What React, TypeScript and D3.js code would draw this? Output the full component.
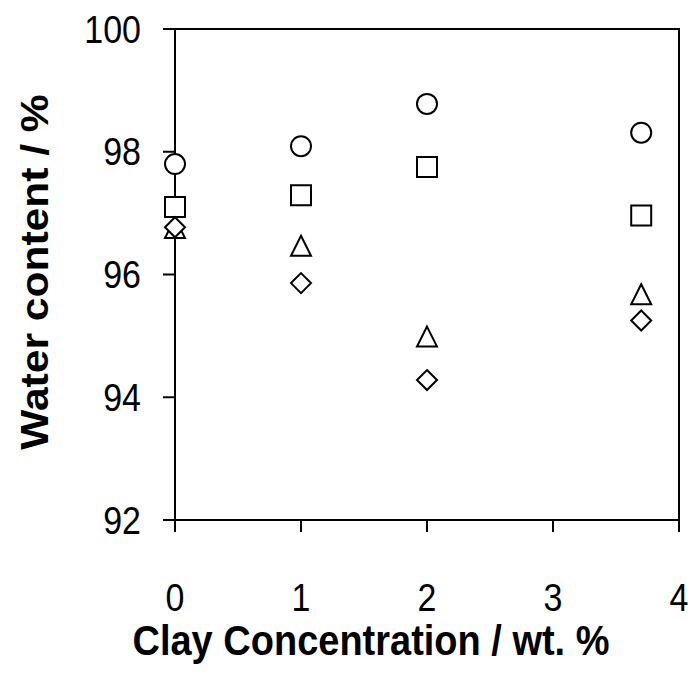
import React from "react";
import * as d3 from "d3";

const clayConc = [0, 1, 2, 3.7];
const seriesCircle = [97.8, 98.09, 98.78, 98.31];
const seriesSquare = [97.1, 97.29, 97.75, 96.96];
const seriesTriangle = [96.75, 96.46, 94.98, 95.67];
const seriesDiamond = [96.77, 95.86, 94.28, 95.25];
const xTicks = [0, 1, 2, 3, 4];
const yTicks = [92, 94, 96, 98, 100];
const xTitle = "Clay Concentration / wt. %";
const yTitle = "Water content / %";

const W = 691, H = 691;
const left = 175, right = 679, top = 29, bottom = 520;
const SY = 1.12;

export default function App() {
  const x = d3.scaleLinear().domain([0, 4]).range([left, right]);
  const y = d3.scaleLinear().domain([92, 100]).range([bottom, top]);
  const sz = 20;
  const sym = (type: d3.SymbolType, area: number) => d3.symbol().type(type).size(area)() as string;
  const circlePath = sym(d3.symbolCircle, Math.PI * (sz / 2) ** 2);
  const squarePath = sym(d3.symbolSquare, sz * sz);
  const diamondPath = `M0,${-sz / 2}L${sz / 2},0L0,${sz / 2}L${-sz / 2},0Z`;
  const triPath = `M0,${-sz / 2 - 0.5}L${sz / 2},${sz / 2 - 0.5}L${-sz / 2},${sz / 2 - 0.5}Z`;
  const series = [
    { vals: seriesCircle, path: circlePath },
    { vals: seriesSquare, path: squarePath },
    { vals: seriesTriangle, path: triPath },
    { vals: seriesDiamond, path: diamondPath },
  ];
  const font = "'Liberation Sans', Arial, sans-serif";
  return (
    <svg width={W} height={H} style={{ position: "absolute", left: 0, top: 0, background: "#fff" }}>
      <rect x={0} y={0} width={W} height={H} fill="#fff" />
      <g stroke="#000" strokeWidth={2} fill="none">
        <rect x={left} y={top} width={right - left} height={bottom - top} />
        {yTicks.map((t) => (
          <line key={"yt" + t} x1={left - 12} x2={left} y1={y(t)} y2={y(t)} />
        ))}
        {xTicks.map((t) => (
          <line key={"xt" + t} x1={x(t)} x2={x(t)} y1={bottom} y2={bottom + 12} />
        ))}
      </g>
      <g fontFamily={font} fontSize={34} fill="#000">
        {yTicks.map((t) => (
          <text
            key={"yl" + t}
            transform={`translate(141,${y(t) + 0.358 * 34 * SY}) scale(1,${SY})`}
            textAnchor="end"
          >
            {t}
          </text>
        ))}
        {xTicks.map((t) => (
          <text key={"xl" + t} transform={`translate(${x(t)},611) scale(1,${SY})`} textAnchor="middle">
            {t}
          </text>
        ))}
      </g>
      <text
        transform={`translate(371,655) scale(1,${SY})`}
        textAnchor="middle"
        fontFamily={font}
        fontWeight="bold"
        fontSize={38}
      >
        {xTitle}
      </text>
      <text
        transform={`translate(48,272) scale(1,${SY}) rotate(-90)`}
        textAnchor="middle"
        fontFamily={font}
        fontWeight="bold"
        fontSize={38}
      >
        {yTitle}
      </text>
      {series.map((s, i) => (
        <g key={i}>
          {s.vals.map((v, j) => (
            <path
              key={j}
              d={s.path}
              transform={`translate(${x(clayConc[j])},${y(v)})`}
              fill="#fff"
              stroke="#000"
              strokeWidth={2}
            />
          ))}
        </g>
      ))}
    </svg>
  );
}
